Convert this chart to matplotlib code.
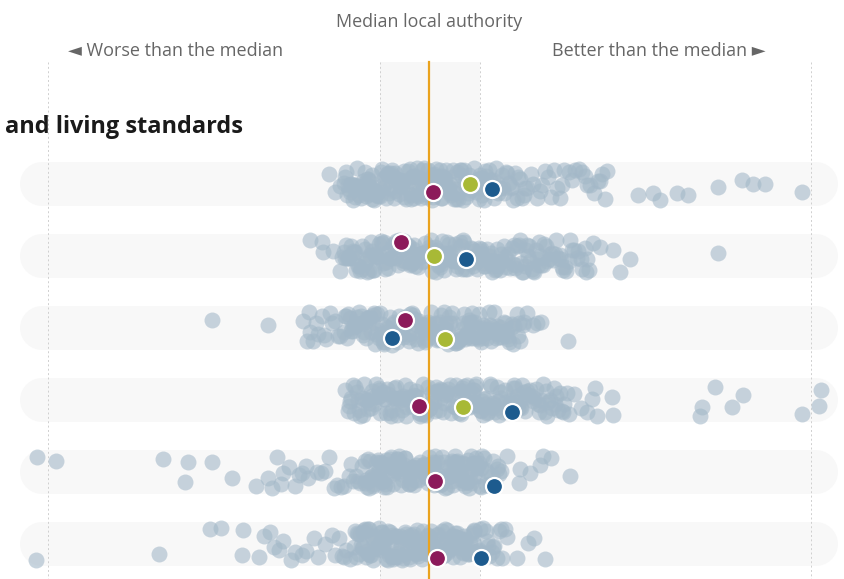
import matplotlib
matplotlib.use("Agg")
import matplotlib.pyplot as plt
import numpy as np

# ---------------- data (scores relative to the median local authority) ----------------
row1 = [-1.00, -0.94, -0.89, -0.85,
        -0.84, -0.82, -0.79, -0.78, -0.75, -0.73, -0.72, -0.69, -0.67, -0.66, -0.63, -0.61, -0.60,
        -0.57, -0.55, -0.54, -0.51, -0.49, -0.47, -0.46, -0.43, -0.41, -0.40, -0.38, -0.35, -0.34,
        -0.32, -0.29, -0.28, -0.26, -0.24, -0.21, -0.20, -0.18, -0.16, -0.14, -0.13, -0.11, -0.09,
        -0.07, -0.06, -0.04, -0.02, -0.01, 0.01, 0.03, 0.04, 0.06, 0.08, 0.09, 0.11, 0.13, 0.14,
        0.16, 0.18, 0.20, 0.21, 0.23, 0.25, 0.27, 0.28, 0.30, 0.32, 0.34, 0.36, 0.38, 0.39, 0.41,
        0.43, 0.45, 0.47, 0.49, 0.51, 0.53, 0.55, 0.57, 0.60, 0.62, 0.64, 0.66, 0.69, 0.71, 0.74,
        0.77, 0.80, 0.83, 0.86, 0.89, 0.93, 0.96,
        -0.80, -0.70, -0.62, -0.53, -0.44, -0.36, -0.27, -0.19, -0.10, -0.03, 0.05, 0.12, 0.19,
        0.26, 0.35, 0.42, 0.50, 0.58, -0.77, -0.58, -0.39, -0.23, -0.08, 0.07, 0.22, 0.37, 0.52,
        -0.83, -0.76, -0.71, -0.65, -0.59, -0.56, -0.50, -0.45, -0.42, -0.37, -0.31, -0.25, -0.22,
        -0.17, -0.12, -0.05, 0.00, 0.02, 0.10, 0.15, 0.17, 0.24, 0.29, 0.31, 0.40, 0.44, 0.48,
        0.54, 0.56, 0.61, 0.65, 0.68, 0.73, 0.78, 0.84, 0.91, 1.02, 1.13, 1.25, 1.33, 1.43, 1.53,
        1.65, 1.73,
        -0.81, -0.74, -0.68, -0.64, -0.57, -0.52, -0.48, -0.41, -0.33, -0.30, -0.25, -0.18, -0.15,
        -0.09, -0.04, 0.03, 0.08, 0.13, 0.20, 0.27, 0.33, 0.39, 0.46, 0.53, 0.60, 0.67, 0.75, 0.82,
        0.88, 0.95, -0.60, -0.35, -0.11, 0.12, 0.36,
        0.98, 1.04, 1.08, 1.11, 1.16, 1.19, 1.22, 1.28, 1.31, 1.35, 1.40, 1.46, 1.50, 1.56, 1.58,
        1.61, 1.69, 1.71, 1.76, 1.78, 2.09, 2.24, 2.31, 2.48, 2.59, 2.89, 3.13, 3.24, 3.36, 3.73]

row2 = [-1.19, -1.07, -1.06, -0.96,
        -0.89, -0.87, -0.84, -0.81, -0.80, -0.77, -0.74, -0.73, -0.70, -0.67, -0.65, -0.63, -0.60,
        -0.59, -0.56, -0.53, -0.52, -0.49, -0.47, -0.45, -0.42, -0.41, -0.38, -0.36, -0.34, -0.31,
        -0.30, -0.27, -0.25, -0.23, -0.21, -0.18, -0.17, -0.14, -0.12, -0.10, -0.08, -0.05, -0.04,
        -0.01, 0.01, 0.03, 0.06, 0.07, 0.10, 0.12, 0.14, 0.16, 0.19, 0.20, 0.23, 0.25, 0.27, 0.29,
        0.32, 0.33, 0.36, 0.38, 0.40, 0.43, 0.44, 0.47, 0.49, 0.52, 0.54, 0.56, 0.59, 0.61, 0.63,
        0.66, 0.68, 0.71, 0.73, 0.75, 0.78, 0.81, 0.83, 0.86, 0.88, 0.91, 0.93, 0.96, 0.99, 1.01,
        1.04, 1.07, 1.09, 1.12, 1.15, 1.18, 1.21, 1.24, 1.27, 1.31, 1.34, 1.37, 1.41, 1.45, 1.49,
        1.53, 1.57, 1.60,
        -0.82, -0.69, -0.57, -0.44, -0.33, -0.22, -0.11, -0.02, 0.08, 0.17, 0.26, 0.35, 0.45,
        0.55, 0.65, 0.76, 0.87, 0.97, 1.08, 1.20, 1.32, -0.75, -0.50, -0.28, -0.07, 0.13, 0.31,
        0.50, 0.70, 0.90, 1.11,
        -0.85, -0.78, -0.71, -0.64, -0.61, -0.54, -0.48, -0.43, -0.39, -0.35, -0.26, -0.19, -0.15,
        -0.09, -0.06, 0.00, 0.05, 0.09, 0.15, 0.21, 0.24, 0.30, 0.37, 0.41, 0.48, 0.51, 0.58,
        0.62, 0.67, 0.72, 0.79, 0.85, 0.92, 0.98, 1.03, 1.14, 1.23, 1.29, 1.36, 1.43, 1.52, 1.58,
        -0.83, -0.76, -0.68, -0.62, -0.55, -0.46, -0.40, -0.32, -0.24, -0.16, -0.07, 0.02, 0.11,
        0.18, 0.28, 0.34, 0.42, 0.53, 0.60, 0.69, 0.77, 0.84, 0.94, 1.00, 1.10, 1.17, 1.26, 1.33,
        1.40, 1.48, 1.56, -0.58, -0.20, 0.22, 0.63, 1.05,
        1.64, 1.71, 1.84, 1.91, 2.01, 2.89]

row3 = [-2.17, -1.61, -1.26, -1.22, -1.19, -1.16, -1.11, -1.07, -1.03, -0.99, -0.94, -0.89, -0.85,
        -0.84, -0.81, -0.79, -0.77, -0.74, -0.72, -0.70, -0.68, -0.65, -0.63, -0.61, -0.59, -0.56,
        -0.54, -0.52, -0.50, -0.47, -0.45, -0.43, -0.41, -0.39, -0.36, -0.34, -0.32, -0.30, -0.28,
        -0.25, -0.23, -0.21, -0.19, -0.17, -0.14, -0.12, -0.10, -0.08, -0.06, -0.03, -0.01, 0.01,
        0.03, 0.05, 0.08, 0.10, 0.12, 0.14, 0.16, 0.19, 0.21, 0.23, 0.25, 0.27, 0.30, 0.32, 0.34,
        0.36, 0.38, 0.41, 0.43, 0.45, 0.47, 0.49, 0.52, 0.54, 0.56, 0.58, 0.61, 0.63, 0.65, 0.68,
        0.70, 0.72, 0.75, 0.77, 0.80, 0.82, 0.85, 0.88, 0.91, 0.94,
        -0.78, -0.66, -0.55, -0.46, -0.37, -0.27, -0.16, -0.07, 0.02, 0.11, 0.20, 0.29, 0.39,
        0.48, 0.57, 0.66, 0.76, -0.60, -0.42, -0.24, -0.04, 0.15, 0.33, 0.51, 0.69,
        -0.83, -0.76, -0.71, -0.64, -0.58, -0.53, -0.49, -0.44, -0.38, -0.33, -0.29, -0.26, -0.20,
        -0.15, -0.11, -0.05, -0.02, 0.04, 0.07, 0.13, 0.18, 0.22, 0.26, 0.31, 0.37, 0.42, 0.46,
        0.53, 0.59, 0.62, 0.67, 0.73, 0.79, 0.84, 0.89, 0.95, -1.20, -1.13, -1.05, -0.97, -0.91,
        -0.82, -0.75, -0.69, -0.62, -0.57, -0.51, -0.45, -0.40, -0.35, -0.31, -0.24, -0.18, -0.13,
        -0.07, 0.00, 0.06, 0.12, 0.17, 0.24, 0.28, 0.35, 0.40, 0.44, 0.50, 0.55, 0.60, 0.64, 0.71,
        0.78, 0.83, 0.90, -0.48, -0.20, 0.09, 0.38,
        0.98, 1.04, 1.08, 1.12, 1.39]

row4 = [-0.84, -0.81, -0.79, -0.76, -0.74, -0.72, -0.69, -0.67, -0.65, -0.62, -0.60, -0.58,
        -0.55, -0.53, -0.51, -0.48, -0.46, -0.44, -0.41, -0.39, -0.37, -0.34, -0.32, -0.30, -0.27,
        -0.25, -0.23, -0.20, -0.18, -0.16, -0.13, -0.11, -0.09, -0.06, -0.04, -0.02, 0.01, 0.03,
        0.05, 0.08, 0.10, 0.12, 0.15, 0.17, 0.19, 0.22, 0.24, 0.26, 0.29, 0.31, 0.33, 0.36, 0.38,
        0.40, 0.43, 0.45, 0.47, 0.50, 0.52, 0.54, 0.57, 0.59, 0.61, 0.64, 0.66, 0.69, 0.71, 0.74,
        0.76, 0.79, 0.81, 0.84, 0.87, 0.89, 0.92, 0.95, 0.98, 1.01, 1.04, 1.07, 1.10, 1.14, 1.17,
        1.21, 1.25, 1.29, 1.33, 1.38,
        -0.70, -0.57, -0.43, -0.29, -0.15, -0.01, 0.13, 0.27, 0.41, 0.55, 0.68, 0.82, 0.96, 1.09,
        -0.50, -0.22, 0.06, 0.34, 0.62, 0.90, 1.19,
        -0.80, -0.75, -0.66, -0.61, -0.54, -0.49, -0.42, -0.36, -0.31, -0.26, -0.19, -0.14, -0.08,
        -0.03, 0.02, 0.07, 0.11, 0.16, 0.21, 0.25, 0.30, 0.35, 0.39, 0.44, 0.49, 0.53, 0.58, 0.63,
        0.67, 0.72, 0.78, 0.83, 0.88, 0.93, 0.99, 1.05, 1.12, 1.16, 1.23, 1.27, 1.31, 1.35, 1.40,
        1.45, 1.52,
        -0.78, -0.71, -0.64, -0.57, -0.50, -0.45, -0.38, -0.33, -0.24, -0.17, -0.10, -0.05, 0.00,
        0.09, 0.14, 0.20, 0.28, 0.32, 0.41, 0.46, 0.51, 0.56, 0.65, 0.70, 0.77, 0.86, 0.91, 0.97,
        1.03, 1.11, 1.18, 1.26, 1.34, -0.35, 0.04, 0.45, 0.85,
        1.58, 1.63, 1.66, 1.68, 1.83, 1.84, 2.71, 2.73, 2.86, 3.03, 3.14, 3.73, 3.90, 3.92]

row5 = [-3.92, -3.73, -2.66, -2.44, -2.41, -2.17, -1.97, -1.73, -1.61, -1.57, -1.48, -1.46,
        -1.34, -1.27, -1.23, -1.21, -1.08, -1.04, -1.00, -0.92, -0.85, -0.80, -0.76, -0.73, -0.71,
        -0.69, -0.67,
        -0.64, -0.62, -0.60, -0.58, -0.56, -0.54, -0.52, -0.50, -0.48, -0.46, -0.44, -0.42, -0.40,
        -0.38, -0.36, -0.34, -0.32, -0.30, -0.28, -0.26, -0.24, -0.22, -0.20, -0.18, -0.16, -0.14,
        -0.12, -0.10, -0.08, -0.06, -0.04, -0.02, 0.00, 0.02, 0.04, 0.06, 0.08, 0.10, 0.12, 0.14,
        0.16, 0.18, 0.20, 0.22, 0.24, 0.26, 0.28, 0.30, 0.32, 0.34, 0.36, 0.38, 0.40, 0.42, 0.44,
        0.46, 0.48, 0.50, 0.52, 0.55, 0.58, 0.61, 0.64, 0.68, 0.72,
        -0.59, -0.49, -0.39, -0.29, -0.19, -0.09, 0.01, 0.11, 0.21, 0.31, 0.41, 0.51,
        -0.53, -0.33, -0.13, 0.07, 0.27, 0.47,
        -0.63, -0.61, -0.57, -0.55, -0.51, -0.47, -0.43, -0.41, -0.37, -0.35, -0.31, -0.27, -0.25,
        -0.21, -0.17, -0.15, -0.11, -0.07, -0.05, -0.01, 0.03, 0.05, 0.09, 0.13, 0.15, 0.19, 0.23,
        0.25, 0.29, 0.33, 0.35, 0.39, 0.43, 0.45, 0.49, 0.53, 0.57, 0.62, 0.66, 0.70, -0.95, -0.88,
        -0.78, -1.12, -1.30, -1.40, -1.52,
        -0.64, -0.59, -0.55, -0.50, -0.45, -0.40, -0.36, -0.30, -0.24, -0.19, -0.15, -0.10, -0.05,
        -0.01, 0.04, 0.09, 0.14, 0.18, 0.23, 0.28, 0.33, 0.37, 0.42, 0.47, 0.52, 0.57, 0.63, 0.69,
        -0.45, -0.20, 0.05, 0.30,
        0.78, 0.90, 0.91, 1.01, 1.11, 1.14, 1.22, 1.41]

row6 = [-3.93, -2.70, -2.19, -2.08, -1.87, -1.86, -1.65, -1.59, -1.50, -1.46, -1.34, -1.27,
        -1.23, -1.11, -1.04, -0.94, -0.90, -0.85, -0.83, -0.79,
        -0.75, -0.73, -0.71, -0.69, -0.67, -0.65, -0.63, -0.61, -0.59, -0.57, -0.55, -0.53, -0.51,
        -0.49, -0.47, -0.45, -0.43, -0.41, -0.39, -0.37, -0.35, -0.33, -0.31, -0.29, -0.27, -0.25,
        -0.23, -0.21, -0.19, -0.17, -0.15, -0.13, -0.11, -0.09, -0.07, -0.05, -0.03, -0.01, 0.01,
        0.03, 0.05, 0.07, 0.09, 0.11, 0.13, 0.15, 0.17, 0.19, 0.21, 0.23, 0.25, 0.27, 0.29, 0.31,
        0.33, 0.35, 0.37, 0.39, 0.41, 0.43, 0.45, 0.48, 0.51, 0.54, 0.57, 0.60, 0.64, 0.68, 0.73,
        0.78,
        -0.66, -0.56, -0.46, -0.36, -0.26, -0.16, -0.06, 0.04, 0.14, 0.24, 0.34, 0.44,
        -0.60, -0.40, -0.20, 0.00, 0.20, 0.40,
        -0.74, -0.70, -0.68, -0.64, -0.62, -0.58, -0.54, -0.50, -0.48, -0.44, -0.42, -0.38, -0.34,
        -0.32, -0.28, -0.24, -0.22, -0.18, -0.14, -0.12, -0.08, -0.04, -0.02, 0.02, 0.06, 0.08,
        0.12, 0.16, 0.18, 0.22, 0.26, 0.28, 0.32, 0.36, 0.38, 0.42, 0.46, 0.50, 0.55, 0.59, 0.63,
        0.70, 0.76, -0.87, -0.97, -1.15, -1.38, -1.55, -1.70,
        -0.72, -0.66, -0.61, -0.56, -0.51, -0.46, -0.41, -0.36, -0.31, -0.26, -0.21, -0.16, -0.11,
        -0.06, -0.01, 0.04, 0.09, 0.14, 0.19, 0.24, 0.29, 0.34, 0.40, 0.45, 0.52, 0.58, 0.65, 0.72,
        -0.45, -0.15, 0.15, 0.45,
        0.88, 0.99, 1.05, 1.16]

all_rows = [row1, row2, row3, row4, row5, row6]

# highlighted local authorities (None = no value)
purple_vals = [0.04, -0.28, -0.24, -0.10, 0.06, 0.08]
lime_vals = [0.41, 0.05, 0.16, 0.34, None, None]
blue_vals = [0.63, 0.37, -0.37, 0.83, 0.65, 0.52]

section_title = "and living standards"
median_label = "Median local authority"
worse_label = "\u25c4 Worse than the median"
better_label = "Better than the median \u25ba"

# ---------------- style ----------------
DOT = "#a3b8c8"
PURPLE = "#8c1a5a"
LIME = "#a8b936"
BLUE = "#1d5b8e"
ORANGE = "#eaa31e"
PILL = "#f8f8f8"
BAND = "#f7f7f7"
GRID = "#cfcfcf"
TXT = "#666666"
FONT = ["Open Sans", "DejaVu Sans"]

W, H = 844, 579
fig = plt.figure(figsize=(W / 100, H / 100), dpi=100)
ax = fig.add_axes([0, 0, 1, 1])
ax.set_xlim(-4.29, 4.15)
ax.set_ylim(5.486, -2.556)
ax.axis("off")

px_per_row = 72.0
top_y = (62 - 184) / px_per_row
bottom_y = 5.486

# band around median
ax.fill_between([-0.49, 0.51], top_y, bottom_y, color=BAND, zorder=0, lw=0)

# pills per row
n_rows = len(all_rows)
for i in range(n_rows):
    ax.plot([-3.87, 3.87], [i, i], color=PILL, lw=44 * 0.72,
            solid_capstyle="round", zorder=1)

# dotted gridlines
for gx in [-3.81, -0.49, 0.51, 3.82]:
    ax.plot([gx, gx], [top_y, bottom_y], color=GRID, lw=0.7,
            linestyle=(0, (2, 2.5)), zorder=2)


def jitter(n, seed, amp):
    k = np.arange(n, dtype=float)
    h = np.sin(k * 12.9898 + seed * 78.233) * 43758.5453
    return ((h - np.floor(h)) - 0.5) * 2 * amp


# dots
amp = 16.5 / px_per_row
for i, vals in enumerate(all_rows):
    vals = np.asarray(vals)
    ax.scatter(vals, i + jitter(len(vals), i + 1, amp), s=132, color=DOT,
               alpha=0.6, lw=0, zorder=3)

# median line
ax.plot([0, 0], [top_y, bottom_y], color=ORANGE, lw=1.6, zorder=4)

# highlighted dots
hl_amp = 14.0 / px_per_row
for j, (vals, col) in enumerate([(purple_vals, PURPLE), (lime_vals, LIME), (blue_vals, BLUE)]):
    offs = jitter(n_rows, 11 + j * 3, hl_amp)
    for i in range(n_rows):
        v = vals[i]
        if v is None:
            continue
        ax.scatter([v], [i + offs[i]], s=150, color=col, edgecolor="white",
                   lw=1.6, zorder=6)

# texts
fig.text(429 / W, 1 - 22 / H, median_label, ha="center", va="center",
         fontsize=12.9, color=TXT, family=FONT)
fig.text(68 / W, 1 - 50.5 / H, worse_label, ha="left", va="center",
         fontsize=13, color=TXT, family=FONT)
fig.text(766 / W, 1 - 50.5 / H, better_label, ha="right", va="center",
         fontsize=13, color=TXT, family=FONT)
fig.text(5 / W, 1 - 127 / H, section_title, ha="left", va="center",
         fontsize=16.9, fontweight="bold", color="#1a1a1a", family=FONT)

fig.savefig("out.png", dpi=100)
